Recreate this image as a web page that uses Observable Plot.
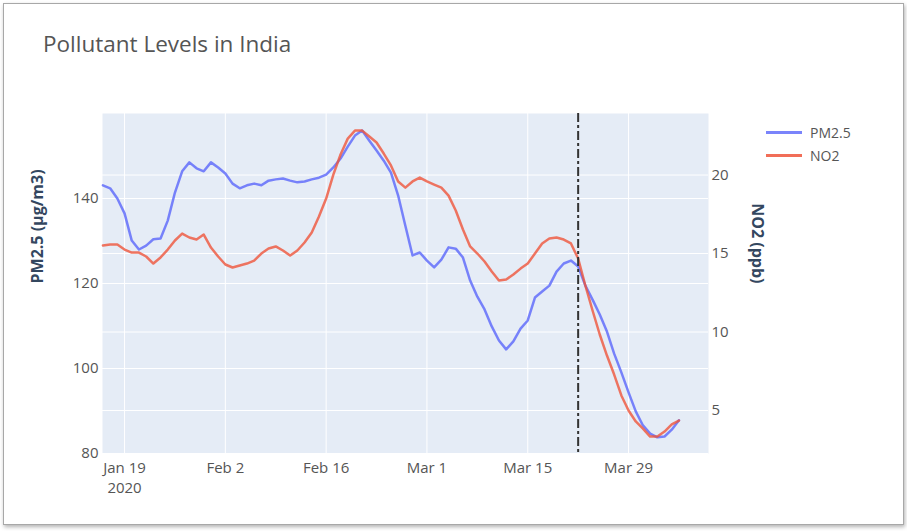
<!DOCTYPE html>
<html>
<head>
<meta charset="utf-8">
<script src="https://cdn.jsdelivr.net/npm/d3@7"></script>
<script src="https://cdn.jsdelivr.net/npm/@observablehq/plot@0.6"></script>
<style>
  body { margin: 0; width: 907px; height: 531px; position: relative; overflow: hidden; background: #fff; font-family: "Open Sans", sans-serif; }
  #frame { position: absolute; left: 3px; top: 3px; width: 899px; height: 520px; border: 1px solid #a8a8a8; box-shadow: 1px 2px 4px rgba(0,0,0,.3); }
  #title { position: absolute; left: 43px; top: 28px; font-size: 22.5px; color: #555; white-space: nowrap; }
  #chart { position: absolute; left: 0; top: 80px; }
  #legend { position: absolute; left: 766px; top: 121px; font-size: 14px; color: #555; }
  .item { display: flex; align-items: center; height: 23px; }
  .swatch { width: 36px; height: 2.5px; margin-right: 8px; }
</style>
</head>
<body>
<div id="frame"></div>
<div id="title">Pollutant Levels in India</div>
<div id="chart"></div>
<div id="legend"></div>
<script>
// ---- data ----
const startDate = "2020-01-16";
const pm25 = [143.1,142.4,140.0,136.5,130.1,128.0,128.9,130.4,130.6,134.8,
  141.4,146.4,148.5,147.1,146.4,148.5,147.3,145.9,143.5,142.4,
  143.1,143.5,143.1,144.2,144.5,144.7,144.2,143.8,144.0,144.5,
  144.9,145.6,147.3,149.4,152.2,154.8,156.0,153.6,151.3,148.9,
  146.1,140.7,133.6,126.6,127.3,125.4,123.8,125.6,128.5,128.2,
  126.1,120.7,116.9,113.9,109.9,106.6,104.5,106.4,109.4,111.3,
  116.7,118.1,119.5,122.8,124.7,125.4,124.0,119.5,116.2,112.7,
  108.7,103.5,99.1,94.4,89.9,86.6,84.7,83.8,84.0,85.6,87.8];
const no2 = [15.51,15.57,15.57,15.25,15.06,15.06,14.81,14.36,14.75,15.25,
  15.83,16.27,16.02,15.89,16.21,15.38,14.81,14.30,14.11,14.24,
  14.36,14.55,15.0,15.32,15.45,15.19,14.87,15.19,15.70,16.34,
  17.36,18.50,20.03,21.31,22.32,22.83,22.83,22.45,22.07,21.37,
  20.61,19.59,19.20,19.59,19.84,19.59,19.39,19.20,18.69,17.74,
  16.53,15.45,15.0,14.49,13.85,13.28,13.34,13.66,14.04,14.36,
  15.0,15.64,15.96,16.02,15.89,15.64,14.68,12.96,11.37,9.84,
  8.50,7.29,5.96,5.0,4.30,3.85,3.34,3.34,3.66,4.11,4.36];
const seriesNames = ["PM2.5", "NO2"];
const seriesColors = ["#636efa", "#ef553b"];
const xTickDates = ["2020-01-19","2020-02-02","2020-02-16","2020-03-01","2020-03-15","2020-03-29"];
const pmTicks = [80, 100, 120, 140];
const no2Ticks = [5, 10, 15, 20];
const lockdownDate = "2020-03-22";
const pmDomain = [80, 160];
const no2Domain = [2.26, 23.92];
const xDomain = ["2020-01-15T22:30:00Z", "2020-04-09T02:30:00Z"];
const leftTitle = "PM2.5 (µg/m3)";
const rightTitle = "NO2 (ppb)";

// ---- build ----
const start = new Date(startDate + "T00:00:00Z");
const toPm = v => pmDomain[0] + (v - no2Domain[0]) * (pmDomain[1] - pmDomain[0]) / (no2Domain[1] - no2Domain[0]);
const fromPm = p => no2Domain[0] + (p - pmDomain[0]) * (no2Domain[1] - no2Domain[0]) / (pmDomain[1] - pmDomain[0]);
const rows = pm25.map((v, i) => ({date: d3.utcDay.offset(start, i), pm25: v, no2: no2[i], no2pm: toPm(no2[i])}));
const xTicks = xTickDates.map(s => new Date(s + "T00:00:00Z"));
const fmt = d3.utcFormat("%b %-d");
const gridStyle = {stroke: "#fff", strokeOpacity: 1, strokeWidth: 1};

const chart = Plot.plot({
  width: 907, height: 451,
  marginTop: 33, marginBottom: 78, marginLeft: 102, marginRight: 199,
  style: {fontFamily: "'Open Sans', sans-serif", fontSize: "15px", color: "#555", background: "transparent", overflow: "visible"},
  x: {type: "utc", domain: xDomain.map(s => new Date(s))},
  y: {domain: pmDomain},
  marks: [
    Plot.frame({fill: "#e5ecf6", stroke: null}),
    Plot.gridY(pmTicks, gridStyle),
    Plot.gridY(no2Ticks.map(toPm), gridStyle),
    Plot.gridX(xTicks, gridStyle),
    Plot.axisY(pmTicks, {tickSize: 0, tickPadding: 4, label: null, fill: "#555"}),
    Plot.axisY(no2Ticks.map(toPm), {anchor: "right", tickSize: 0, tickPadding: 3, label: null, fill: "#555",
      tickFormat: p => String(Math.round(fromPm(p)))}),
    Plot.axisX(xTicks, {tickSize: 0, tickPadding: 5, label: null, fill: "#555", lineHeight: 1.35,
      tickFormat: (d, i) => i === 0 ? fmt(d) + "\n2020" : fmt(d)}),
    Plot.lineY(rows, {x: "date", y: "pm25", stroke: seriesColors[0], strokeWidth: 2.5, strokeOpacity: 0.85}),
    Plot.lineY(rows, {x: "date", y: "no2pm", stroke: seriesColors[1], strokeWidth: 2.5, strokeOpacity: 0.8}),
    Plot.ruleX([new Date(lockdownDate + "T00:00:00Z")], {stroke: "#333", strokeWidth: 2, strokeDasharray: "9,3,3,3"}),
    Plot.text([leftTitle], {frameAnchor: "left", dx: -65, rotate: -90, fontSize: 16, fontWeight: "bold", fill: "#34475f"}),
    Plot.text([rightTitle], {frameAnchor: "right", dx: 49, rotate: 90, fontSize: 16, fontWeight: "bold", fill: "#34475f"})
  ]
});
document.getElementById("chart").appendChild(chart);

const legend = document.getElementById("legend");
seriesNames.forEach((name, i) => {
  const item = document.createElement("div");
  item.className = "item";
  const sw = document.createElement("div");
  sw.className = "swatch";
  sw.style.background = seriesColors[i];
  sw.style.opacity = 0.85;
  const lab = document.createElement("span");
  lab.textContent = name;
  item.appendChild(sw); item.appendChild(lab);
  legend.appendChild(item);
});
</script>
</body>
</html>
